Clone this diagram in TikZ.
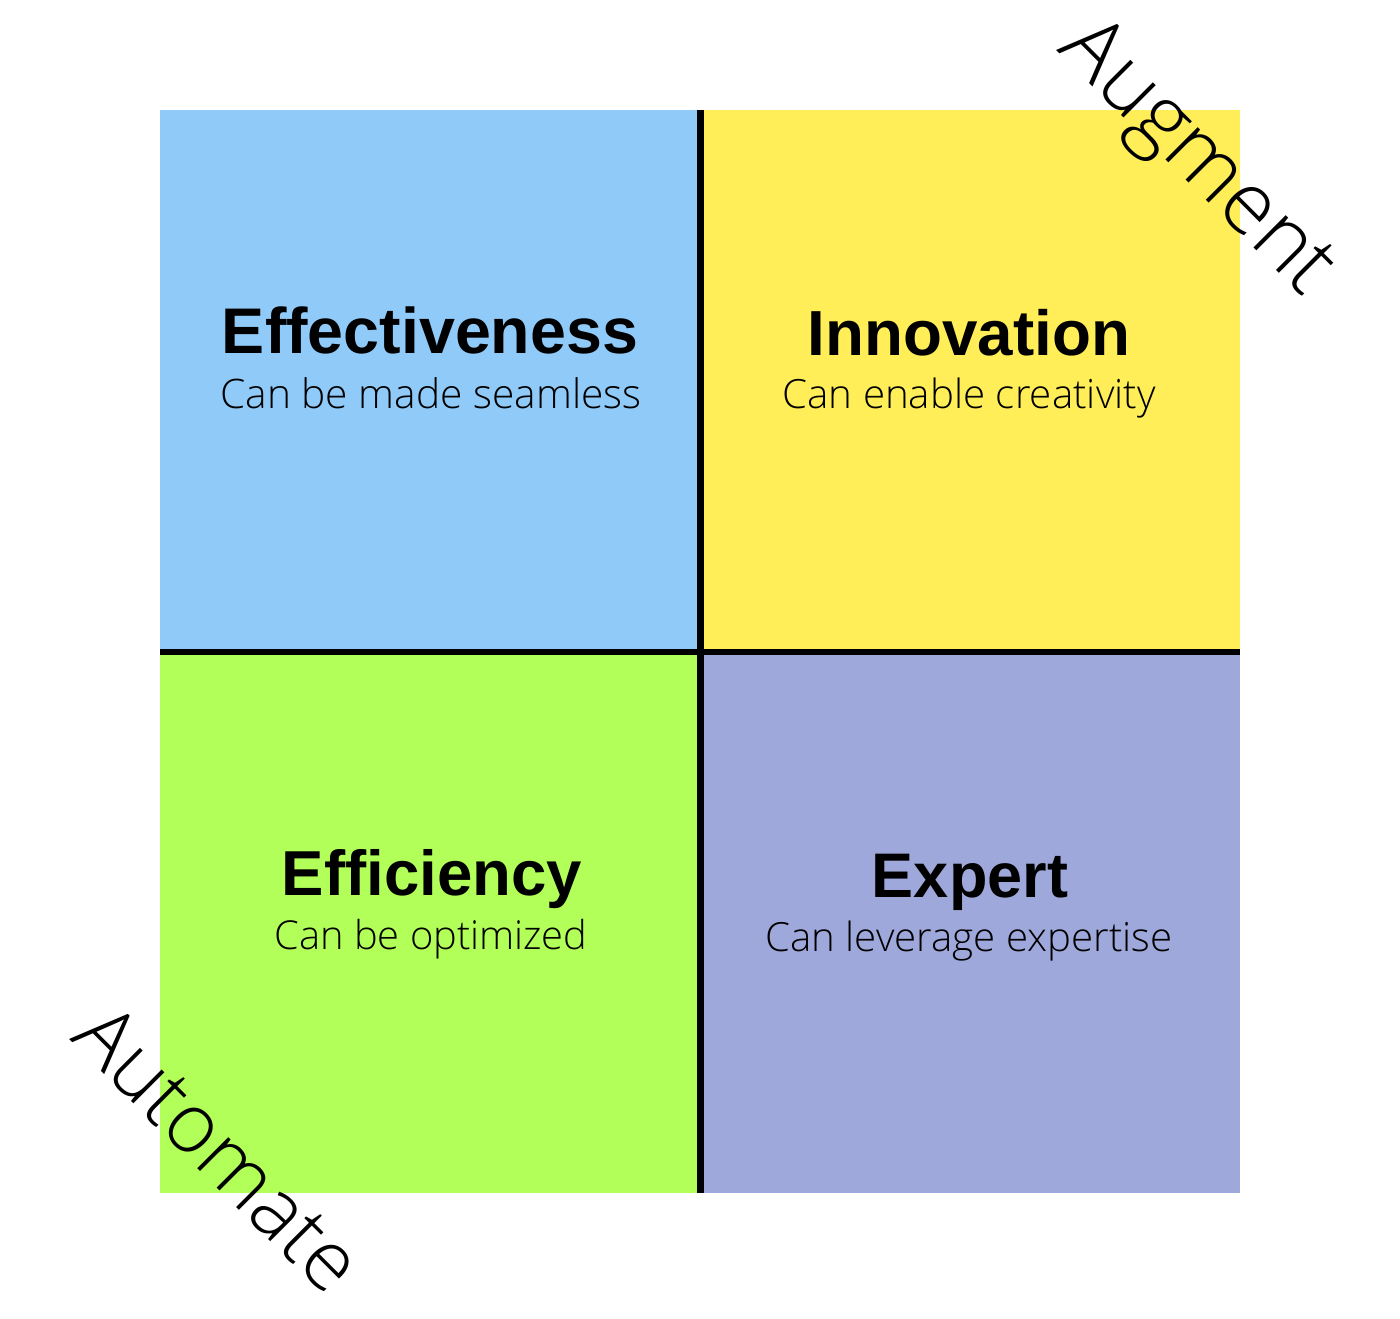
\documentclass[tikz,border=0pt]{standalone}
\usepackage{fontspec}
\setmainfont{Liberation Sans}
\newfontfamily\lightfont{Open Sans Light}
\usepackage{graphicx}
\definecolor{qblue}{HTML}{90CAF9}
\definecolor{qyellow}{HTML}{FFEE58}
\definecolor{qgreen}{HTML}{B2FF59}
\definecolor{qpurple}{HTML}{9FA8DA}
\begin{document}
\begin{tikzpicture}[x=1pt,y=-1pt,
  quad/.style={draw=none},
  divider/.style={line width=6.5pt,black},
  titletext/.style={inner sep=0pt,anchor=base,font=\bfseries},
  subtext/.style={inner sep=0pt,anchor=base,font=\lightfont},
  axistext/.style={inner sep=0pt,anchor=center,rotate=-45,font=\lightfont}]
\useasboundingbox[fill=white] (0,0) rectangle (1400,1318);
% quadrants
\fill[qblue]   (160,110) rectangle (700,652);
\fill[qyellow] (700,110) rectangle (1240,652);
\fill[qgreen]  (160,652) rectangle (700,1193);
\fill[qpurple] (700,652) rectangle (1240,1193);
% dividers
\coordinate (vt) at (700.5,110);
\coordinate (vb) at (700.5,1193);
\coordinate (hl) at (160,652);
\coordinate (hr) at (1240,652);
\draw[divider] (vt) -- (vb);
\draw[divider] (hl) -- (hr);
% titles
\node[titletext] (t1) at (430,353) {\resizebox{416pt}{!}{Effectiveness}};
\node[subtext]   (s1) at (431,408) {\resizebox{421pt}{!}{Can be made seamless}};
\node[titletext] (t2) at (969,355) {\resizebox{322pt}{!}{Innovation}};
\node[subtext]   (s2) at (969,408) {\resizebox{373pt}{!}{Can enable creativity}};
\node[titletext] (t3) at (432,895) {\resizebox{300pt}{!}{Efficiency}};
\node[subtext]   (s3) at (431,949) {\resizebox{313pt}{!}{Can be optimized}};
\node[titletext] (t4) at (970,897) {\resizebox{196pt}{!}{Expert}};
\node[subtext]   (s4) at (969,951) {\resizebox{407pt}{!}{Can leverage expertise}};
% axis labels
\node[axistext] (aug) at (1195,160) {\resizebox{350pt}{!}{Augment}};
\node[axistext] (aut) at (219,1148) {\resizebox{365pt}{!}{Automate}};
\end{tikzpicture}
\end{document}
